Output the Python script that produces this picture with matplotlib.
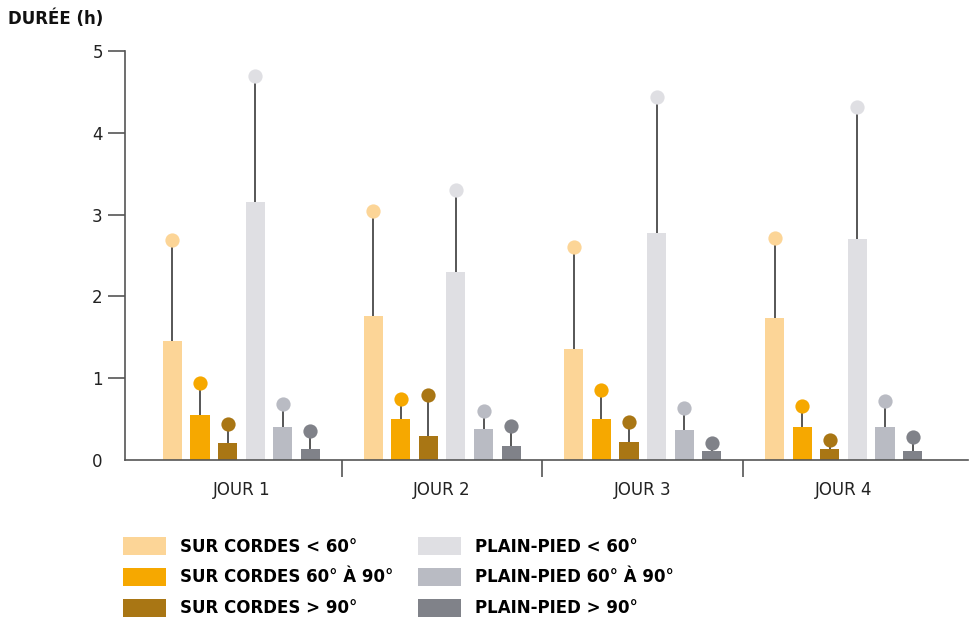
import numpy as np
import matplotlib
matplotlib.use('Agg')
import matplotlib.pyplot as plt
from matplotlib.patches import Patch

plt.rcParams['font.family'] = ['DejaVu Sans']

# data
days = ['JOUR 1', 'JOUR 2', 'JOUR 3', 'JOUR 4']
series = ['SUR CORDES < 60°', 'SUR CORDES 60° À 90°', 'SUR CORDES > 90°',
          'PLAIN-PIED < 60°', 'PLAIN-PIED 60° À 90°', 'PLAIN-PIED > 90°']
colors = ['#FCD597', '#F6A800', '#A97614', '#DFDFE3', '#B9BBC3', '#808289']

# mean duration (bar) per series, one value per day
sc_lt60 = [1.45, 1.76, 1.36, 1.74]
sc_60_90 = [0.55, 0.50, 0.50, 0.40]
sc_gt90 = [0.21, 0.29, 0.22, 0.13]
pp_lt60 = [3.16, 2.30, 2.78, 2.70]
pp_60_90 = [0.40, 0.38, 0.37, 0.40]
pp_gt90 = [0.14, 0.17, 0.11, 0.11]

# upper value (dot) per series
sc_lt60_hi = [2.69, 3.05, 2.61, 2.72]
sc_60_90_hi = [0.94, 0.75, 0.86, 0.66]
sc_gt90_hi = [0.44, 0.79, 0.47, 0.25]
pp_lt60_hi = [4.69, 3.30, 4.44, 4.32]
pp_60_90_hi = [0.68, 0.60, 0.63, 0.72]
pp_gt90_hi = [0.36, 0.41, 0.21, 0.28]

means = [sc_lt60, sc_60_90, sc_gt90, pp_lt60, pp_60_90, pp_gt90]
highs = [sc_lt60_hi, sc_60_90_hi, sc_gt90_hi, pp_lt60_hi, pp_60_90_hi, pp_gt90_hi]

fig = plt.figure(figsize=(9.7, 6.22), dpi=100)
ax = fig.add_axes([125/970, 162/622, 843/970, 409/622])

x = np.arange(len(days))
step = 0.1376
width = 0.095
for k in range(len(series)):
    pos = x + (k - 2.5) * step
    ax.bar(pos, means[k], width=width, color=colors[k], zorder=2)
    ax.vlines(pos, means[k], highs[k], color='#3a3a3a', lw=1.2, zorder=3)
    ax.scatter(pos, highs[k], s=105, color=colors[k], zorder=4, linewidths=0)

ax.set_xlim(-0.58, 3.62)
ax.set_ylim(0, 5)

for s in ['top', 'right']:
    ax.spines[s].set_visible(False)
for s in ['left', 'bottom']:
    ax.spines[s].set_color('#555555')
    ax.spines[s].set_linewidth(1.2)

ax.set_yticks(range(6))
ax.tick_params(axis='y', length=12, width=1.2, color='#555555', pad=4,
               labelsize=12, labelcolor='#222222')
ax.yaxis.get_major_ticks()[0].tick1line.set_visible(False)

ax.set_xticks(x)
ax.set_xticklabels(days)
ax.set_xticks([0.5, 1.5, 2.5], minor=True)
ax.tick_params(axis='x', which='major', length=0, pad=15, labelsize=12,
               labelcolor='#222222')
ax.tick_params(axis='x', which='minor', length=12, width=1.2, color='#555555')

fig.text(8/970, 1 - 19/622, 'DURÉE (h)', fontsize=12, fontweight='bold',
         va='center', ha='left', color='#111111')

handles = [Patch(facecolor=c, edgecolor='none') for c in colors]
fig.legend(handles, series, ncol=2, loc='upper left',
           bbox_to_anchor=(123/970, 1 - 537/622), frameon=False,
           borderpad=0, borderaxespad=0, handlelength=2.6, handleheight=1.3,
           handletextpad=0.85, labelspacing=0.73, columnspacing=1.42,
           prop={'size': 12, 'weight': 'bold'})

fig.savefig('out.png', dpi=100)
